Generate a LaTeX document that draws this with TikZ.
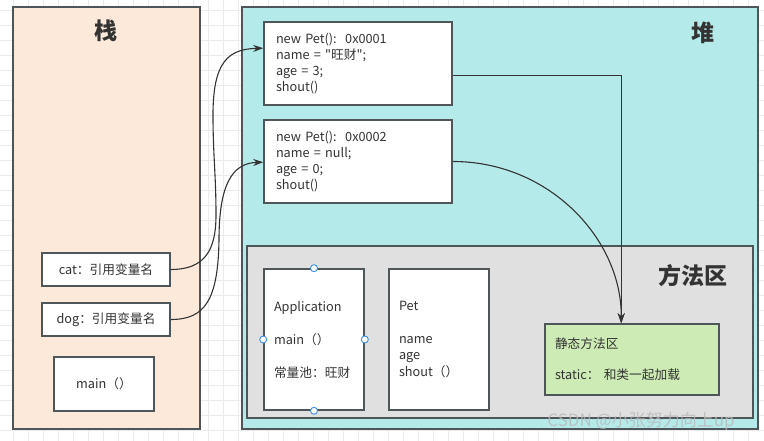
\documentclass[tikz,border=0pt]{standalone}
\usepackage{fontspec}
\setmainfont{Noto Sans CJK SC}
\newfontfamily\basefont{Noto Sans CJK SC}
\usetikzlibrary{arrows.meta,calc}
\definecolor{gridc}{HTML}{EBEBEB}
\definecolor{bordc}{HTML}{4F5659}
\definecolor{stackc}{HTML}{FCE9DA}
\definecolor{heapc}{HTML}{B5EAEA}
\definecolor{methc}{HTML}{E0E0E0}
\definecolor{statc}{HTML}{CDEBB4}
\definecolor{txtc}{HTML}{333333}
\definecolor{edgec}{HTML}{333333}
\definecolor{handc}{HTML}{3B8FEB}
\tikzset{
  area/.style={draw=bordc, line width=1.8pt, inner sep=0pt},
  box/.style={draw=bordc, line width=1.6pt, fill=white, text=txtc, inner sep=0pt,
    font=\basefont\fontsize{12.7}{16}\selectfont},
  lbox/.style={box, align=left, inner ysep=0pt},
  title/.style={text=txtc, font=\fontsize{23}{26}\selectfont\bfseries, inner sep=0pt},
  edge/.style={draw=edgec, line width=1.1pt, -{Stealth[length=10pt,width=7pt]}},
  handle/.style={circle, draw=handc, fill=white, line width=0.9pt, minimum size=7pt, inner sep=0pt}
}
\begin{document}
\begin{tikzpicture}[x=1pt,y=-1pt]
\useasboundingbox (0,0) rectangle (764,441);
\fill[white] (0,0) rectangle (764,441);
% grid
\foreach \i in {0,...,50} {\draw[gridc, line width=0.8pt] ({13.3+15*\i-15},0) -- ({13.3+15*\i-15},441);}
\foreach \j in {0,...,29} {\draw[gridc, line width=0.8pt] (0,{10+15*\j-15}) -- (764,{10+15*\j-15});}

% areas
\node[area, fill=stackc, minimum width=187pt, minimum height=422pt] (stack) at (106.5,218) {};
\node[area, fill=heapc, minimum width=516pt, minimum height=422pt] (heap) at (500,218) {};
\node[area, fill=methc, minimum width=506pt, minimum height=172pt] (meth) at (500,332) {};

\node[title] (tstack) at (106,31) {栈};
\node[title] (theap) at (703,33) {堆};
\node[title] (tmeth) at (693,276) {方法区};

% stack boxes
\node[box, minimum width=128pt, minimum height=33pt] (cat) at (106,269.5) {cat：引用变量名};
\node[box, minimum width=128pt, minimum height=33pt] (dog) at (106,319.5) {dog：引用变量名};
\node[box, minimum width=100pt, minimum height=54pt] (main) at (104,384) {main（）};

% heap objects
\node[lbox, inner xsep=12pt, text width=164pt, minimum height=83pt] (pet1) at (358,63.5)
  {new Pet():\ \ 0x0001\\name = "旺财";\\age = 3;\\shout()};
\node[lbox, inner xsep=12pt, text width=164pt, minimum height=83pt] (pet2) at (358,161.5)
  {new Pet():\ \ 0x0002\\name = null;\\age = 0;\\shout()};

% method area
\node[lbox, inner xsep=10pt, text width=80pt, minimum height=141pt, font=\basefont\fontsize{12.7}{16.5}\selectfont] (app) at (314,339.5)
  {Application\\[16.5pt]main（）\\[16.5pt]常量池：旺财};
\node[lbox, inner xsep=10pt, text width=80pt, minimum height=141pt, font=\basefont\fontsize{12.7}{16.3}\selectfont] (petc) at (439,339.5)
  {Pet\\[16.3pt]name\\age\\shout（）};
\node[lbox, fill=statc, inner xsep=10pt, text width=154pt, minimum height=71pt, font=\basefont\fontsize{12.7}{15.5}\selectfont] (static) at (632,359.5)
  {静态方法区\\[15.5pt]static：\ 和类一起加载};

% selection handles
\node[handle] (h1) at (app.north) {};
\node[handle] (h2) at (app.south) {};
\node[handle] (h3) at (app.west) {};
\node[handle] (h4) at (app.east) {};

% connectors
\coordinate (p1in) at ($(pet1.north west)+(0,27)$);
\coordinate (p2in) at ($(pet2.north west)+(0,43)$);
\coordinate (p1out) at ($(pet1.north east)+(0,54)$);
\coordinate (sin) at ($(static.north west)+(77,0)$);

\draw[edge] (cat.east) .. controls (205,269.5) and (216,250) .. (216,215)
  .. controls (216,175) and (213,155) .. (213,115)
  .. controls (213,62) and (228,49) .. (p1in);
\draw[edge] (dog.east) .. controls (205,319.5) and (218,300) .. (219,240)
  .. controls (219,185) and (232,163) .. (p2in);
\draw[edge] (p1out) -| (sin);
\draw[edge] (pet2.east) .. controls (550,161.5) and (622,240) .. (sin);

% watermark
\node[text=gray!55, opacity=0.8, font=\fontsize{17}{20}\selectfont, inner sep=0pt] (wm) at (641,421) {CSDN @小张努力向上up};
\end{tikzpicture}
\end{document}
